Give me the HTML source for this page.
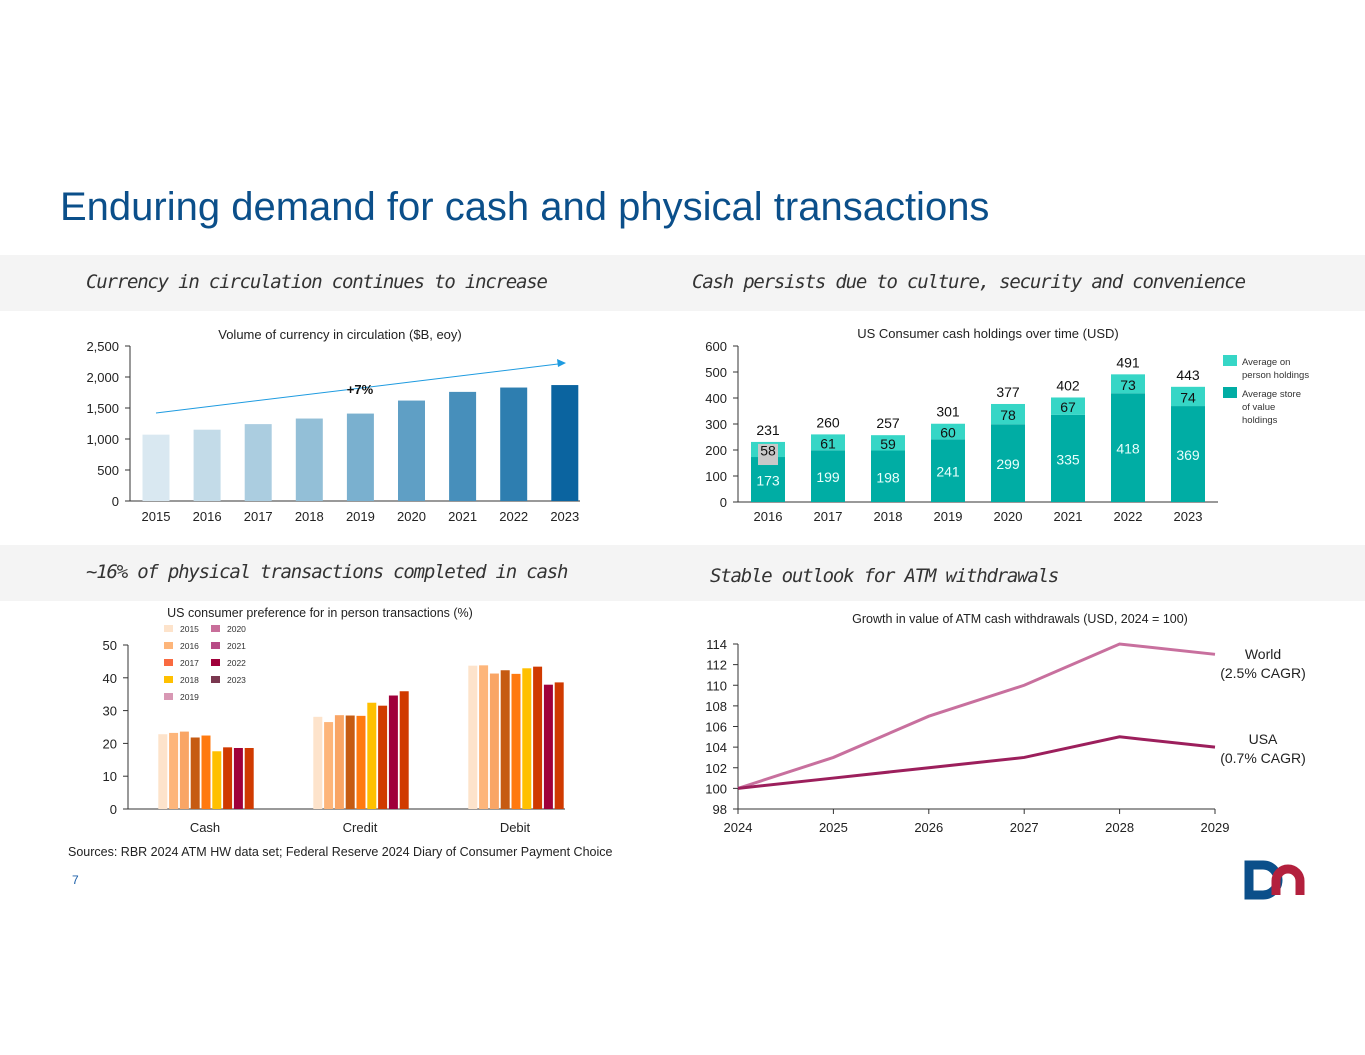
<!DOCTYPE html>
<html><head><meta charset="utf-8">
<style>
html,body{margin:0;padding:0;background:#fff;}
body{width:1365px;height:1055px;position:relative;overflow:hidden;font-family:"Liberation Sans",sans-serif;}
.band{position:absolute;left:0;width:1365px;height:56px;background:#f4f4f4;}
.sub{position:absolute;font-family:"DejaVu Sans Mono","Liberation Mono",monospace;font-style:italic;font-size:19px;letter-spacing:-1.2px;color:#333;white-space:nowrap;}
svg{position:absolute;left:0;top:0;}
svg text{font-family:"Liberation Sans",sans-serif;}
</style></head>
<body>
<div style="position:absolute;left:60px;top:185px;font-size:40px;color:#0b4f8a;white-space:nowrap;">Enduring demand for cash and physical transactions</div>
<div class="band" style="top:255px"></div>
<div class="band" style="top:545px"></div>
<div class="sub" style="left:86px;top:271px;">Currency in circulation continues to increase</div>
<div class="sub" style="left:692px;top:271px;">Cash persists due to culture, security and convenience</div>
<div class="sub" style="left:86px;top:561px;">~16% of physical transactions completed in cash</div>
<div class="sub" style="left:710px;top:565px;">Stable outlook for ATM withdrawals</div>
<div style="position:absolute;left:68px;top:845px;font-size:12.5px;color:#222;">Sources: RBR 2024 ATM HW data set; Federal Reserve 2024 Diary of Consumer Payment Choice</div>
<div style="position:absolute;left:72px;top:873px;font-size:12px;color:#1a5ea8;">7</div>
<svg width="1365" height="1055" id="chart">
 <g>
  <path d="M1249 865 h14 a15 15 0 0 1 0 30 h-14 z" fill="none" stroke="#0b4f8a" stroke-width="9"/>
  <path d="M1276 895 v-14 a12 12 0 0 1 24 0 v14" fill="none" stroke="#b3203d" stroke-width="9"/>
 </g>
</svg>
<script>
const svg=document.getElementById('chart');
const NS='http://www.w3.org/2000/svg';
function el(t,a,p){const e=document.createElementNS(NS,t);for(const k in a)e.setAttribute(k,a[k]);(p||svg).appendChild(e);return e;}
function tx(x,y,s,size,anchor,fill,p){const e=el('text',{x:x,y:y,'font-size':size,'text-anchor':anchor||'middle',fill:fill||'#222'},p);e.textContent=s;return e;}

// ---- Chart 1 data
const c1Years=['2015','2016','2017','2018','2019','2020','2021','2022','2023'];
const c1Values=[1070,1150,1240,1330,1410,1620,1760,1830,1870];
const c1Ticks=[0,500,1000,1500,2000,2500];
const c1Colors=['#d9e8f1','#c3dbe8','#abcde0','#93bfd7','#7ab0cf','#5f9fc5','#478fbb','#2e7eb0','#0b64a0'];
// ---- Chart 2 data
const c2Years=['2016','2017','2018','2019','2020','2021','2022','2023'];
const c2Store=[173,199,198,241,299,335,418,369];
const c2Person=[58,61,59,60,78,67,73,74];
const c2Ticks=[0,100,200,300,400,500,600];
// ---- Chart 3 data
const c3Cats=['Cash','Credit','Debit'];
const c3Series=['2015','2016','2017','2018','2019','2020','2021','2022','2023'];
const c3Cash=[22.8,23.2,23.6,21.8,22.4,17.6,18.8,18.6,18.6];
const c3Credit=[28.1,26.5,28.6,28.5,28.4,32.4,31.5,34.6,35.9];
const c3Debit=[43.7,43.8,41.3,42.3,41.2,42.9,43.4,37.9,38.6];
const c3Ticks=[0,10,20,30,40,50];
const c3Colors=['#fde3cb','#fdb57a','#f9a565','#c65b12','#ff7a10','#ffc000','#d03a00','#a0003a','#d03a00'];
const c3LegColors=['#fde3cb','#fdb57a','#f96a40','#ffc000','#d898b4','#c86e9a','#b84b86','#a0003a','#7a3850'];
// ---- Chart 4 data
const c4Years=['2024','2025','2026','2027','2028','2029'];
const c4World=[100,103,107,110,114,113];
const c4USA=[100,101,102,103,105,104];
const c4Ticks=[98,100,102,104,106,108,110,112,114];

// ===== Chart 1
(function(){
 const g=el('g',{});
 const x0=130,x1=580,y0=501,yT=346,max=2500;
 const y=v=>y0-(v/max)*(y0-yT);
 const xc=i=>156+51.1*i;
 tx(340,339,'Volume of currency in circulation ($B, eoy)',13,'middle','#222',g);
 el('line',{x1:x0,y1:yT,x2:x0,y2:y0,stroke:'#333'},g);
 el('line',{x1:x0,y1:y0,x2:x1,y2:y0,stroke:'#333'},g);
 c1Ticks.forEach(t=>{el('line',{x1:x0-5,y1:y(t),x2:x0,y2:y(t),stroke:'#333'},g);tx(x0-11,y(t)+5,t.toLocaleString('en-US'),13,'end','#222',g);});
 c1Values.forEach((v,i)=>{const r=el('rect',{x:xc(i)-13.5,y:y(v),width:27,height:y0-y(v),fill:c1Colors[i]},g);
  
  tx(xc(i),521,c1Years[i],13,'middle','#222',g);});
 el('line',{x1:156,y1:413,x2:558,y2:364,stroke:'#1e9be0','stroke-width':1},g);
 el('path',{d:'M566 363 l-9 -4 l1 8 z',fill:'#1e9be0'},g);
 const t=tx(360,394,'+7%',13,'middle','#111',g);t.setAttribute('font-weight','bold');
})();

// ===== Chart 2
(function(){
 const g=el('g',{});
 const x0=738,x1=1218,y0=502,yT=346,max=600;
 const y=v=>y0-(v/max)*(y0-yT);
 const step=(x1-x0)/c2Years.length;
 const xc=i=>x0+step*(i+0.5);
 tx(988,338,'US Consumer cash holdings over time (USD)',13,'middle','#222',g);
 el('line',{x1:x0,y1:yT,x2:x0,y2:y0,stroke:'#333'},g);
 el('line',{x1:x0,y1:y0,x2:x1,y2:y0,stroke:'#333'},g);
 c2Ticks.forEach(t=>{el('line',{x1:x0-5,y1:y(t),x2:x0,y2:y(t),stroke:'#333'},g);tx(x0-11,y(t)+5,String(t),13,'end','#222',g);});
 c2Years.forEach((yr,i)=>{
  const s=c2Store[i],p=c2Person[i],w=34;
  const r1=el('rect',{x:xc(i)-w/2,y:y(s),width:w,height:y0-y(s),fill:'#00ada4'},g);
  
  const r2=el('rect',{x:xc(i)-w/2,y:y(s+p),width:w,height:y(s)-y(s+p),fill:'#36d6c6'},g);
  
  if(i===0)el('rect',{x:xc(i)-10,y:y(s+p)+2,width:20,height:y(s)-y(s+p)+6,fill:'#c8c8c8'},g);
  tx(xc(i),(y(s)+y0)/2+6,String(s),14,'middle','#e8fffc',g);
  tx(xc(i),(y(s)+y(s+p))/2+6,String(p),14,'middle','#111',g);
  tx(xc(i),y(s+p)-7,String(s+p),14,'middle','#111',g);
  tx(xc(i),521,yr,13,'middle','#222',g);
 });
 el('rect',{x:1223,y:355,width:14,height:11,fill:'#36d6c6'},g);
 tx(1242,365,'Average on',9.5,'start','#333',g);tx(1242,378,'person holdings',9.5,'start','#333',g);
 el('rect',{x:1223,y:387,width:14,height:11,fill:'#00ada4'},g);
 tx(1242,397,'Average store',9.5,'start','#333',g);tx(1242,410,'of value',9.5,'start','#333',g);tx(1242,423,'holdings',9.5,'start','#333',g);
})();

// ===== Chart 3
(function(){
 const g=el('g',{});
 const x0=128,x1=565,y0=809,yT=645,max=50;
 const y=v=>y0-(v/max)*(y0-yT);
 const xc=i=>206+155*i;
 tx(320,617,'US consumer preference for in person transactions (%)',12.5,'middle','#222',g);
 el('line',{x1:x0,y1:yT,x2:x0,y2:y0,stroke:'#333'},g);
 el('line',{x1:x0,y1:y0,x2:x1,y2:y0,stroke:'#333'},g);
 c3Ticks.forEach(t=>{el('line',{x1:x0-5,y1:y(t),x2:x0,y2:y(t),stroke:'#333'},g);tx(x0-11,y(t)+5,String(t),13,'end','#222',g);});
 const data=[c3Cash,c3Credit,c3Debit];
 data.forEach((arr,ci)=>{
  arr.forEach((v,si)=>{const bx=xc(ci)+(si-4)*10.8-4.5;
   const r=el('rect',{x:bx,y:y(v),width:9,height:y0-y(v),fill:c3Colors[si]},g);
   });
  tx(xc(ci)-1,832,c3Cats[ci],13,'middle','#222',g);
 });
 c3Series.forEach((s,i)=>{const col=i<5?0:1,row=i<5?i:i-5;
  const lx=164+col*47,ly=625+row*17;
  el('rect',{x:lx,y:ly,width:9,height:7,fill:c3LegColors[i]},g);
  tx(lx+16,ly+7,s,8.5,'start','#333',g);});
})();

// ===== Chart 4
(function(){
 const g=el('g',{});
 const x0=738,x1=1215,y0=809,yT=644,mn=98,mx=114;
 const y=v=>y0-(v-mn)/(mx-mn)*(y0-yT);
 const x=i=>x0+i*(x1-x0)/(c4Years.length-1);
 tx(1020,623,'Growth in value of ATM cash withdrawals (USD, 2024 = 100)',12.5,'middle','#222',g);
 el('line',{x1:x0,y1:yT,x2:x0,y2:y0,stroke:'#333'},g);
 el('line',{x1:x0,y1:y0,x2:x1,y2:y0,stroke:'#333'},g);
 c4Ticks.forEach(t=>{el('line',{x1:x0-5,y1:y(t),x2:x0,y2:y(t),stroke:'#333'},g);tx(x0-11,y(t)+5,String(t),13,'end','#222',g);});
 c4Years.forEach((yr,i)=>{el('line',{x1:x(i),y1:y0,x2:x(i),y2:y0+5,stroke:'#333'},g);tx(x(i),832,yr,13,'middle','#222',g);});
 const w=el('polyline',{points:c4World.map((v,i)=>x(i)+','+y(v)).join(' '),fill:'none',stroke:'#c8709e','stroke-width':3},g);
 
 const u=el('polyline',{points:c4USA.map((v,i)=>x(i)+','+y(v)).join(' '),fill:'none',stroke:'#9c1f5c','stroke-width':3},g);
 
 tx(1263,659,'World',14,'middle','#222',g);tx(1263,678,'(2.5% CAGR)',14,'middle','#222',g);
 tx(1263,744,'USA',14,'middle','#222',g);tx(1263,763,'(0.7% CAGR)',14,'middle','#222',g);
})();
</script>
</body></html>
